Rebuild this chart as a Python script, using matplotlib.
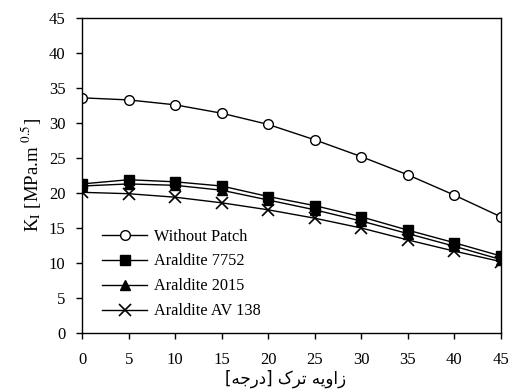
import matplotlib
matplotlib.use("Agg")
import matplotlib.pyplot as plt

angles = [0, 5, 10, 15, 20, 25, 30, 35, 40, 45]
without_patch = [33.6, 33.3, 32.6, 31.4, 29.8, 27.6, 25.2, 22.6, 19.7, 16.6]
araldite_7752 = [21.3, 21.9, 21.6, 21.0, 19.5, 18.2, 16.6, 14.7, 12.9, 11.0]
araldite_2015 = [21.0, 21.3, 21.1, 20.4, 19.0, 17.6, 16.0, 14.2, 12.4, 10.5]
araldite_av138 = [20.1, 19.9, 19.4, 18.6, 17.6, 16.4, 15.0, 13.3, 11.7, 10.2]
labels = ["Without Patch", "Araldite 7752", "Araldite 2015", "Araldite AV 138"]
xticks = [0, 5, 10, 15, 20, 25, 30, 35, 40, 45]
yticks = [0, 5, 10, 15, 20, 25, 30, 35, 40, 45]

plt.rcParams['font.family'] = ['Liberation Serif', 'DejaVu Sans']
plt.rcParams['mathtext.fontset'] = 'stix'

fig = plt.figure(figsize=(5.1, 3.92), dpi=100)
ax = fig.add_axes([0.161, 0.1505, 0.821, 0.8035])

ax.plot(angles, without_patch, '-o', color='black', mfc='white', mec='black', ms=7, lw=1.0, label=labels[0])
ax.plot(angles, araldite_7752, '-s', color='black', ms=6.5, lw=1.0, label=labels[1])
ax.plot(angles, araldite_2015, '-^', color='black', ms=7, lw=1.0, label=labels[2])
ax.plot(angles, araldite_av138, '-x', color='black', ms=8, mew=1.2, lw=1.0, label=labels[3])

ax.set_xlim(0, 45)
ax.set_ylim(0, 45)
ax.set_xticks(xticks)
ax.set_yticks(yticks)
ax.tick_params(direction='out', length=4, width=1, labelsize=12, colors='black')
ax.tick_params(axis='x', pad=10)
ax.tick_params(axis='y', pad=8)
for s in ax.spines.values():
    s.set_linewidth(1.0)
    s.set_color('black')

ax.set_ylabel(r'K$_{\mathrm{I}}$ [MPa.m $^{0.5}$]', fontsize=13.5, labelpad=4)
xl = "[\uFEEA\uFE9F\uFEAD\uFEA9] \uFB8E\uFEAE\uFE97 \uFEEA\uFBFE\uFEED\uFE8D\uFEAF"
ax.set_xlabel(xl, fontsize=12, family=['DejaVu Sans'], labelpad=1)
ax.xaxis.set_label_coords(0.485, -0.115)

leg = ax.legend(loc='lower left', bbox_to_anchor=(0.012, -0.003), frameon=False,
                fontsize=11.7, handlelength=2.8, labelspacing=0.55, handletextpad=0.4)

fig.savefig('out.png', dpi=100)
